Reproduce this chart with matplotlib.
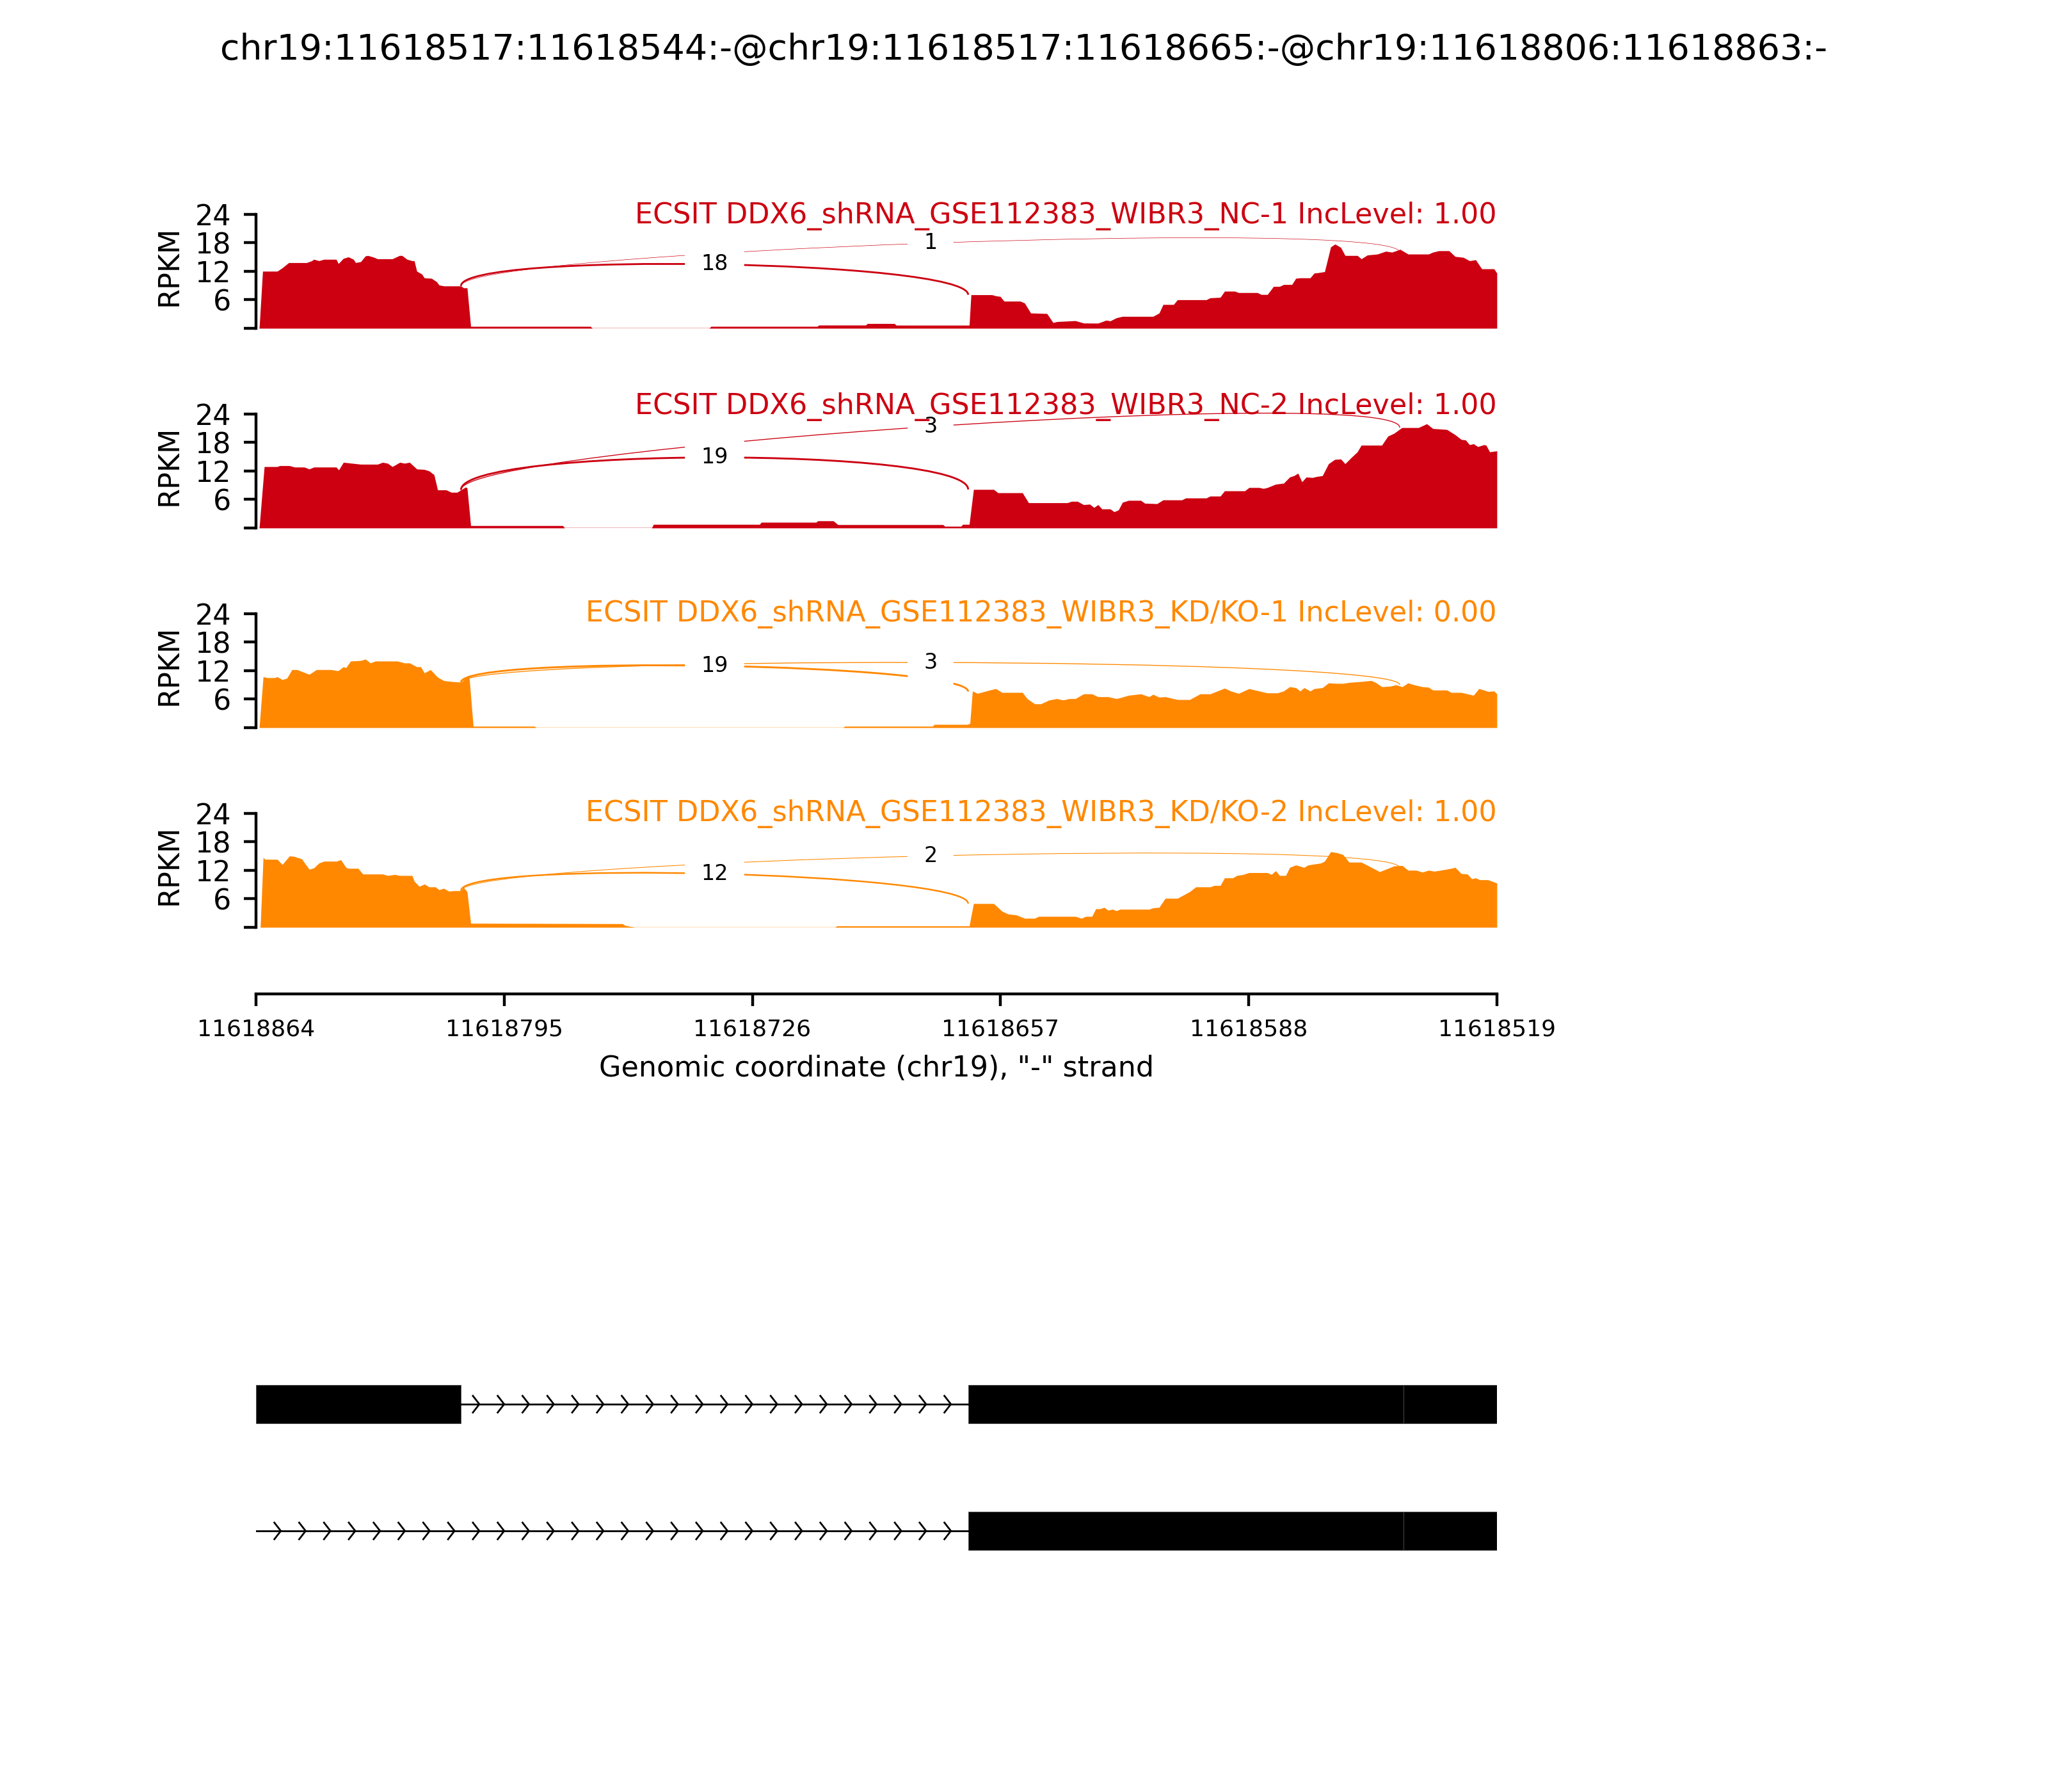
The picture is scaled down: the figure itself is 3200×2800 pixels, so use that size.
import numpy as np
import matplotlib
matplotlib.use("Agg")
import matplotlib.pyplot as plt
from matplotlib.path import Path
from matplotlib.patches import PathPatch, Rectangle
from matplotlib.transforms import blended_transform_factory

event = "chr19:11618517:11618544:-@chr19:11618517:11618665:-@chr19:11618806:11618863:-"
region_start = 11618864   # "-" strand, so the axis runs from high to low
region_end = 11618519
xticks = [11618864, 11618795, 11618726, 11618657, 11618588, 11618519]

samples = ["ECSIT DDX6_shRNA_GSE112383_WIBR3_NC-1",
           "ECSIT DDX6_shRNA_GSE112383_WIBR3_NC-2",
           "ECSIT DDX6_shRNA_GSE112383_WIBR3_KD/KO-1",
           "ECSIT DDX6_shRNA_GSE112383_WIBR3_KD/KO-2"]
inc_levels = [1.00, 1.00, 0.00, 1.00]
colors = ["#CC0011", "#CC0011", "#FF8800", "#FF8800"]

# coverage: (bp from region_start, RPKM)
nc1_cov = [(0.9, 0), (1.85, 12.0), (5.9, 12.0), (7.3, 12.7), (9.1, 13.8), (14.1, 13.8),
           (15.5, 14.2), (16.1, 14.5), (17.5, 14.2), (18.9, 14.5), (22.3, 14.5), (22.9, 13.6),
           (24.3, 14.7), (25.7, 15.0), (27.1, 14.5), (27.7, 13.8), (29.1, 14.0), (30.4, 15.2),
           (31.1, 15.3), (32.5, 15.0), (33.8, 14.6), (37.9, 14.6), (39.9, 15.3), (40.6, 15.3),
           (42.0, 14.5), (43.4, 14.2), (44.0, 14.2), (44.7, 12.0), (46.1, 11.4), (46.8, 10.6),
           (48.8, 10.5), (50.2, 9.8), (50.9, 9.1), (52.2, 8.9), (57.0, 8.9), (57.7, 8.5),
           (58.7, 8.5), (59.7, 0.4), (93.0, 0.4), (93.5, 0), (126.0, 0), (126.5, 0.4),
           (156.0, 0.4), (156.5, 0.67), (169.5, 0.67), (170.0, 1.0), (177.5, 1.0), (178.0, 0.65),
           (198.3, 0.65), (198.8, 7.05), (204.6, 7.05), (205.8, 6.8), (206.9, 6.7), (208.0, 5.7),
           (212.5, 5.7), (213.7, 5.3), (215.4, 3.2), (219.9, 3.1), (221.6, 1.2), (222.7, 1.4),
           (227.8, 1.6), (230.1, 1.1), (234.1, 1.07), (236.4, 1.7), (237.5, 1.55), (239.2, 2.2),
           (240.9, 2.5), (249.4, 2.5), (251.1, 3.2), (252.2, 5.0), (255.1, 5.0), (256.2, 6.0),
           (264.2, 6.0), (265.3, 6.4), (268.1, 6.5), (269.3, 7.8), (272.1, 7.8), (273.2, 7.5),
           (278.4, 7.5), (279.5, 7.1), (281.2, 7.1), (282.9, 8.8), (284.6, 8.8), (285.7, 9.2),
           (288.0, 9.2), (289.1, 10.5), (290.3, 10.6), (293.1, 10.6), (294.2, 11.6), (295.4, 11.7),
           (297.1, 11.9), (298.8, 17.1), (300.0, 17.7), (301.6, 17.0), (302.8, 15.3), (306.2, 15.3),
           (307.3, 14.6), (309.0, 15.4), (311.8, 15.6), (314.1, 16.2), (315.8, 16.0), (317.0, 16.3),
           (318.1, 16.6), (320.3, 15.6), (326.0, 15.6), (327.2, 16.0), (328.9, 16.3), (331.7, 16.3),
           (333.4, 15.1), (335.7, 14.9), (337.4, 14.2), (339.1, 14.4), (340.8, 12.5), (344.2, 12.5),
           (345.0, 11.6)]

nc2_cov = [(0.9, 0), (2.3, 12.9), (5.9, 12.9), (6.6, 13.1), (9.3, 13.1), (10.7, 12.8),
           (13.4, 12.8), (14.8, 12.4), (16.1, 12.8), (22.3, 12.8), (23.0, 12.2), (24.3, 13.8),
           (29.1, 13.4), (33.8, 13.4), (35.2, 13.8), (36.6, 13.6), (37.9, 12.9), (40.0, 13.8),
           (41.3, 13.6), (42.7, 13.8), (44.7, 12.4), (46.8, 12.3), (48.1, 12.0), (49.5, 11.2),
           (50.5, 8.0), (52.9, 8.0), (54.3, 7.5), (55.9, 7.5), (58.3, 8.6), (58.7, 8.4),
           (59.7, 0.5), (85.3, 0.5), (85.8, 0), (110.0, 0), (110.5, 0.76), (140.0, 0.76),
           (140.5, 1.2), (155.7, 1.2), (156.2, 1.5), (160.5, 1.5), (161.8, 0.7), (191.0, 0.7),
           (191.5, 0.36), (196.0, 0.36), (196.5, 0.76), (198.3, 0.76), (199.5, 8.1), (205.1, 8.1),
           (206.3, 7.4), (213.1, 7.4), (214.8, 5.3), (225.6, 5.3), (226.7, 5.6), (228.4, 5.6),
           (230.1, 4.9), (231.8, 5.0), (233.0, 4.3), (234.1, 4.9), (235.2, 4.0), (237.5, 4.0),
           (238.6, 3.4), (239.8, 3.8), (240.9, 5.4), (242.6, 5.8), (246.0, 5.8), (247.1, 5.2),
           (250.5, 5.1), (252.2, 5.9), (257.4, 5.9), (258.5, 6.3), (264.2, 6.3), (265.3, 6.7),
           (268.1, 6.7), (269.3, 7.8), (274.9, 7.8), (276.1, 8.5), (278.9, 8.5), (280.1, 8.3),
           (281.2, 8.5), (283.5, 9.2), (285.7, 9.4), (287.4, 10.7), (288.6, 11.0), (289.7, 11.5),
           (290.8, 9.7), (292.0, 10.7), (293.7, 10.6), (294.8, 10.8), (296.5, 11.0), (298.2, 13.5),
           (299.9, 14.4), (301.6, 14.5), (302.8, 13.5), (304.5, 14.8), (306.2, 16.0), (307.3, 17.4),
           (313.0, 17.4), (314.7, 19.3), (316.4, 19.9), (318.6, 21.1), (323.2, 21.1), (325.5, 21.9),
           (327.2, 20.9), (331.1, 20.7), (333.4, 19.6), (335.1, 18.6), (336.3, 18.5), (337.4, 17.5),
           (338.5, 17.7), (339.7, 17.1), (341.4, 17.5), (342.0, 17.4), (343.0, 16.0), (345.0, 16.2)]

ko1_cov = [(0.9, 0), (2.0, 10.7), (3.2, 10.5), (5.2, 10.5), (5.9, 10.7), (7.3, 10.1),
           (8.6, 10.4), (10.0, 12.2), (11.4, 12.2), (13.1, 11.7), (14.8, 11.2), (16.8, 12.2),
           (20.9, 12.2), (22.3, 12.0), (22.9, 12.0), (24.3, 12.8), (25.0, 12.6), (26.3, 14.0),
           (29.1, 14.1), (30.4, 14.4), (31.8, 13.6), (33.2, 14.0), (39.3, 14.0), (41.3, 13.6),
           (42.7, 13.6), (44.7, 12.8), (45.8, 12.8), (46.8, 11.5), (48.5, 12.2), (50.5, 10.6),
           (52.2, 9.9), (54.3, 9.7), (56.3, 9.6), (57.0, 9.5), (58.6, 10.6), (59.3, 10.4),
           (60.4, 0.3), (77.4, 0.3), (77.9, 0), (163.2, 0), (163.7, 0.3), (188.1, 0.3),
           (188.6, 0.68), (197.8, 0.68), (198.5, 0.9), (199.2, 7.7), (200.6, 7.2), (204.0, 7.9),
           (205.7, 8.2), (207.4, 7.4), (213.1, 7.4), (214.4, 6.1), (216.5, 5.0), (218.2, 5.0),
           (220.5, 5.8), (222.7, 6.1), (224.4, 5.8), (226.1, 6.1), (227.8, 6.1), (230.1, 7.1),
           (232.4, 7.1), (234.1, 6.5), (236.9, 6.5), (239.2, 6.1), (240.3, 6.3), (242.6, 6.8),
           (246.0, 7.1), (248.3, 6.5), (249.4, 7.0), (251.1, 6.4), (252.8, 6.5), (256.2, 5.9),
           (259.6, 5.9), (262.5, 7.1), (265.3, 7.1), (269.3, 8.3), (271.0, 7.7), (273.2, 7.2),
           (276.1, 8.2), (278.9, 7.7), (281.2, 7.3), (284.0, 7.3), (285.7, 7.7), (287.4, 8.6),
           (289.1, 8.4), (290.3, 7.7), (291.4, 8.4), (293.1, 7.7), (294.2, 8.2), (296.5, 8.4),
           (298.2, 9.4), (300.5, 9.3), (302.2, 9.3), (303.9, 9.5), (305.6, 9.6), (307.3, 9.7),
           (310.1, 9.9), (311.3, 9.5), (313.0, 8.6), (315.2, 8.7), (317.0, 9.0), (318.7, 8.6),
           (320.3, 9.4), (322.0, 9.0), (324.3, 8.6), (326.0, 8.5), (327.2, 7.9), (331.1, 7.9),
           (332.3, 7.4), (335.1, 7.4), (336.8, 7.1), (338.5, 6.8), (340.0, 8.2), (341.4, 7.9),
           (342.5, 7.6), (344.2, 7.7), (345.0, 7.1)]

ko2_cov = [(1.2, 0), (2.0, 14.7), (2.5, 14.3), (5.9, 14.3), (7.3, 13.2), (9.3, 15.0),
           (10.7, 14.9), (11.4, 14.7), (12.7, 14.4), (14.8, 12.2), (16.1, 12.5), (17.5, 13.5),
           (18.9, 13.9), (22.3, 13.9), (23.6, 14.2), (25.0, 12.6), (25.7, 12.4), (28.4, 12.4),
           (29.7, 11.2), (35.2, 11.2), (36.6, 10.9), (38.6, 11.1), (40.0, 10.9), (43.4, 10.9),
           (44.0, 9.7), (45.4, 8.6), (46.8, 9.1), (48.1, 8.5), (49.9, 8.5), (50.9, 7.9),
           (52.2, 8.2), (53.6, 7.6), (55.0, 7.7), (57.0, 7.7), (57.7, 8.4), (58.7, 7.5),
           (59.7, 0.85), (101.9, 0.76), (102.6, 0.4), (105.3, 0), (161.0, 0), (161.5, 0.3),
           (198.3, 0.3), (199.5, 5.0), (205.1, 5.0), (207.4, 3.4), (209.1, 2.8), (211.4, 2.6),
           (213.7, 1.9), (216.5, 1.9), (217.6, 2.3), (227.8, 2.3), (229.5, 1.9), (230.7, 2.3),
           (232.4, 2.3), (233.5, 3.9), (234.7, 3.9), (235.8, 4.2), (236.9, 3.6), (238.1, 3.8),
           (239.2, 3.5), (240.3, 3.8), (248.3, 3.8), (249.4, 4.1), (251.1, 4.2), (252.8, 6.1),
           (256.2, 6.1), (259.6, 7.5), (261.3, 8.5), (265.3, 8.5), (266.4, 8.8), (268.1, 8.8),
           (269.3, 10.4), (271.6, 10.4), (272.7, 10.9), (274.4, 11.1), (276.1, 11.5), (281.2, 11.5),
           (282.3, 11.1), (283.5, 11.9), (284.6, 10.9), (286.3, 10.9), (287.4, 12.6), (289.1, 13.1),
           (291.4, 12.6), (292.5, 13.1), (296.0, 13.5), (297.1, 13.9), (298.8, 15.9), (300.5, 15.7),
           (302.2, 15.3), (303.9, 13.7), (307.3, 13.7), (310.1, 12.6), (312.4, 11.7), (314.1, 12.2),
           (316.4, 12.9), (318.7, 13.0), (320.3, 12.0), (322.6, 12.0), (324.3, 11.6), (326.0, 12.0),
           (327.6, 11.8), (329.4, 12.0), (332.3, 12.4), (333.4, 12.6), (335.1, 11.3), (336.8, 11.2),
           (338.0, 10.2), (339.1, 10.4), (340.2, 10.0), (342.5, 10.0), (343.6, 9.7), (345.0, 9.3)]

coverages = [nc1_cov, nc2_cov, ko1_cov, ko2_cov]

# splice junctions (left site, right site) and read counts per sample
junctions = [(11618807, 11618666), (11618807, 11618546)]
nc1_jxn = [18, 1]
nc2_jxn = [19, 3]
ko1_jxn = [19, 3]
ko2_jxn = [12, 2]
jxn_counts = [nc1_jxn, nc2_jxn, ko1_jxn, ko2_jxn]

# gene models: exons (start, end) and intron span
iso1_exons = [(11618806, 11618863), (11618544, 11618665), (11618517, 11618544)]
iso1_intron = (11618807, 11618666)
iso2_exons = [(11618544, 11618665), (11618517, 11618544)]
iso2_intron = (11618864, 11618666)

yticks = [0, 6, 12, 18, 24]
ymax = 24

fig = plt.figure(figsize=(8, 7), dpi=400)
fig.suptitle(event, fontsize=10, y=0.972, va="center")

left, width = 0.125, 0.6059
title_y = [22.1, 24.0, 22.3, 22.4]

for i in range(4):
    ax = fig.add_axes([left, 0.8168 - i * 0.11143, width, 0.0637])
    ax.set_facecolor("none")
    col = colors[i]
    pos, val = np.array(coverages[i]).T
    x = region_start - pos
    ax.plot([x[0], x[-1]], [0, 0], color=col, lw=0.3, alpha=0.35)
    ax.fill_between(x, 0, val, color=col, lw=0)

    h = 0.4125 * val.max()
    for (ss1, ss2), n in zip(junctions, jxn_counts[i]):
        # density at the donor (last exon base) and acceptor (first exon base)
        y1 = np.interp(region_start - ss1, pos, val)
        y2 = np.interp(region_start - ss2 + 1.5, pos, val)
        pts = [(ss1, y1), (ss1, y1 + h), (ss2, y2 + h), (ss2, y2)]
        path = Path(pts, [Path.MOVETO, Path.CURVE4, Path.CURVE4, Path.CURVE4])
        ax.add_patch(PathPatch(path, ec=col, fc="none", lw=0.4 * np.log10(n + 1),
                               clip_on=False))
        ax.text((ss1 + ss2) / 2, (y1 + y2) / 2 + 0.75 * h, str(n), fontsize=6,
                ha="center", va="center", backgroundcolor="w")

    tr = blended_transform_factory(ax.transAxes, ax.transData)
    ax.text(1.0, title_y[i], "%s IncLevel: %.2f" % (samples[i], inc_levels[i]),
            transform=tr, ha="right", va="baseline", fontsize=8, color=col)

    ax.set_xlim(region_start, region_end)
    ax.set_ylim(0, ymax)
    ax.set_xticks([])
    ax.set_yticks(yticks)
    ax.set_yticklabels([""] + [str(t) for t in yticks[1:]], fontsize=8)
    for s in ["top", "right", "bottom"]:
        ax.spines[s].set_visible(False)
    ax.spines["left"].set_bounds(0, ymax)
    ax.set_ylabel("RPKM", fontsize=8)
    ax.yaxis.set_label_coords(-0.059, 0.55)

# coordinate ruler
axr = fig.add_axes([left, 0.4454, width, 0.001])
axr.set_facecolor("none")
axr.set_xlim(region_start, region_end)
axr.set_xticks(xticks)
axr.set_xticklabels([str(t) for t in xticks], fontsize=6.5)
axr.set_yticks([])
for s in ["top", "right", "left"]:
    axr.spines[s].set_visible(False)
axr.set_xlabel('Genomic coordinate (chr19), "-" strand', fontsize=8)

# gene models
axg = fig.add_axes([left, 0.1071, width, 0.1429])
axg.set_xlim(region_start, region_end)
axg.set_ylim(0, 400)
axg.axis("off")
step = 6.9
for yc, exons, intron in [(306, iso1_exons, iso1_intron), (108, iso2_exons, iso2_intron)]:
    axg.plot([intron[0], intron[1]], [yc, yc], color="k", lw=0.5)
    k = np.arange(1, 60)
    ax_pos = region_start - k * step
    ax_pos = ax_pos[(ax_pos < intron[0] - 2) & (ax_pos > intron[1] + 2)]
    for xa in ax_pos:
        axg.plot([xa + 1.8, xa, xa + 1.8], [yc + 13, yc, yc - 13], color="k", lw=0.5)
    for s, e in exons:
        axg.add_patch(Rectangle((s + 1, yc - 30), e - s, 60, fc="k", ec="0.3", lw=0.15))

fig.savefig("out.png", dpi=400)
